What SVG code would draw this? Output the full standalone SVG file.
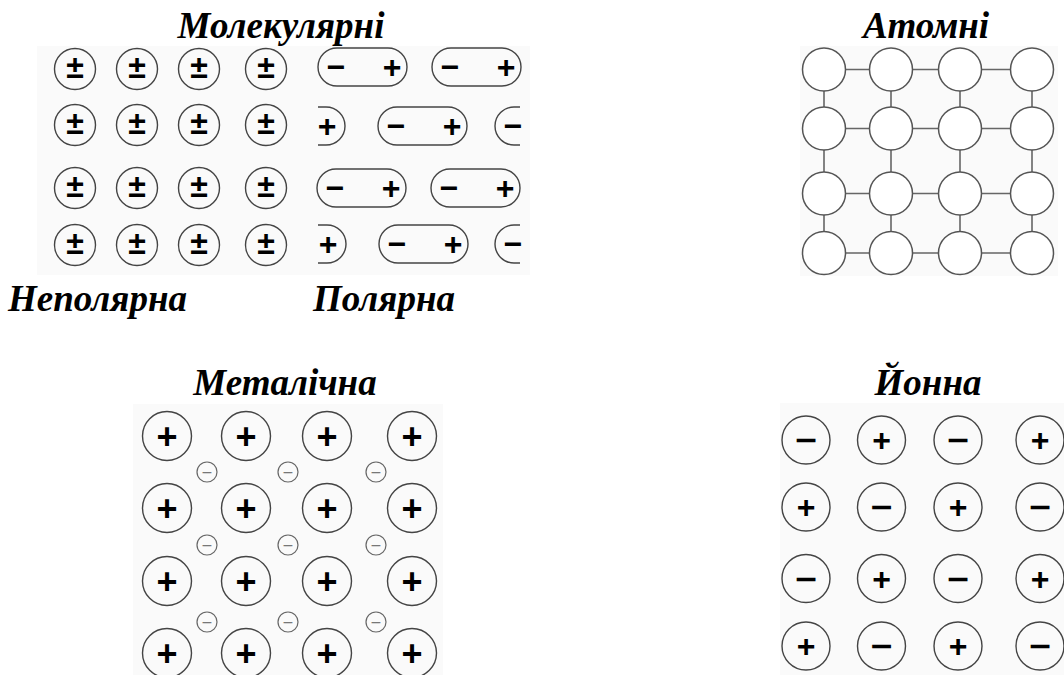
<svg xmlns="http://www.w3.org/2000/svg" width="1064" height="675" viewBox="0 0 1064 675">
<style>
.bg{fill:#fafafa}
.lbl{font-family:"Liberation Serif",serif;font-weight:bold;font-style:italic;font-size:37px;fill:#000}
.c{fill:none;stroke:#444;stroke-width:1.4}
.ca{fill:#fff;stroke:#555;stroke-width:1.5}
.ce{fill:none;stroke:#666;stroke-width:1.2}
.bond{stroke:#666;stroke-width:1.6;fill:none}
.s{font-family:"Liberation Sans",Arial,sans-serif;font-weight:bold;font-size:32px;fill:#000;text-anchor:middle}
.pm{font-family:"Liberation Sans",Arial,sans-serif;font-weight:bold;font-size:32px;fill:#000;text-anchor:middle}
.sp{font-family:"Liberation Sans",Arial,sans-serif;font-weight:bold;font-size:36px;fill:#000;text-anchor:middle}
.sm{font-family:"DejaVu Sans",sans-serif;font-weight:bold;font-size:30px;fill:#000;text-anchor:middle}
.se{font-family:"DejaVu Sans",sans-serif;font-size:14px;fill:#777;text-anchor:middle}
</style>
<rect width="1064" height="675" fill="#fff"/>
<rect class="bg" x="37" y="46" width="493" height="229"/>
<rect class="bg" x="800" y="46" width="258" height="230"/>
<rect class="bg" x="133" y="404" width="310" height="271"/>
<rect class="bg" x="780" y="403" width="284" height="272"/>

<g id="labels">
<text class="lbl" x="281" y="38" text-anchor="middle">Молекулярні</text>
<text class="lbl" x="926" y="38" text-anchor="middle">Атомні</text>
<text class="lbl" x="8" y="311">Неполярна</text>
<text class="lbl" x="313" y="311">Полярна</text>
<text class="lbl" x="285" y="395" text-anchor="middle">Металічна</text>
<text class="lbl" x="928" y="395" text-anchor="middle">Йонна</text>
</g>

<g id="nonpolar">
<g id="np-r1">
<circle class="c" cx="75" cy="69" r="20.5"/><text class="pm" x="75" y="78">±</text>
<circle class="c" cx="137" cy="69" r="20.5"/><text class="pm" x="137" y="78">±</text>
<circle class="c" cx="199" cy="69" r="20.5"/><text class="pm" x="199" y="78">±</text>
<circle class="c" cx="266" cy="69" r="20.5"/><text class="pm" x="266" y="78">±</text>
</g>
<g id="np-r2">
<circle class="c" cx="75" cy="125" r="20.5"/><text class="pm" x="75" y="134">±</text>
<circle class="c" cx="137" cy="125" r="20.5"/><text class="pm" x="137" y="134">±</text>
<circle class="c" cx="199" cy="125" r="20.5"/><text class="pm" x="199" y="134">±</text>
<circle class="c" cx="266" cy="125" r="20.5"/><text class="pm" x="266" y="134">±</text>
</g>
<g id="np-r3">
<circle class="c" cx="75" cy="188" r="20.5"/><text class="pm" x="75" y="197">±</text>
<circle class="c" cx="137" cy="188" r="20.5"/><text class="pm" x="137" y="197">±</text>
<circle class="c" cx="199" cy="188" r="20.5"/><text class="pm" x="199" y="197">±</text>
<circle class="c" cx="266" cy="188" r="20.5"/><text class="pm" x="266" y="197">±</text>
</g>
<g id="np-r4">
<circle class="c" cx="75" cy="245" r="20.5"/><text class="pm" x="75" y="254">±</text>
<circle class="c" cx="137" cy="245" r="20.5"/><text class="pm" x="137" y="254">±</text>
<circle class="c" cx="199" cy="245" r="20.5"/><text class="pm" x="199" y="254">±</text>
<circle class="c" cx="266" cy="245" r="20.5"/><text class="pm" x="266" y="254">±</text>
</g>
</g>

<g id="polar">
<g id="pol-r1">
<rect class="c" x="318" y="48" width="89" height="38" rx="19"/><text class="s" x="336" y="78">−</text><text class="s" x="392" y="78">+</text>
<rect class="c" x="432" y="48" width="89" height="38" rx="19"/><text class="s" x="450" y="78">−</text><text class="s" x="506" y="78">+</text>
</g>
<g id="pol-r2">
<path class="c" d="M318,107 H326 A19,19 0 0 1 326,145 H318"/><text class="s" x="327" y="137">+</text>
<rect class="c" x="378" y="107" width="89" height="38" rx="19"/><text class="s" x="396" y="137">−</text><text class="s" x="452" y="137">+</text>
<path class="c" d="M520,107 H514 A19,19 0 0 0 514,145 H520"/><text class="s" x="513" y="137">−</text>
</g>
<g id="pol-r3">
<rect class="c" x="317" y="169" width="89" height="38" rx="19"/><text class="s" x="335" y="199">−</text><text class="s" x="391" y="199">+</text>
<rect class="c" x="431" y="169" width="89" height="38" rx="19"/><text class="s" x="449" y="199">−</text><text class="s" x="505" y="199">+</text>
</g>
<g id="pol-r4">
<path class="c" d="M318,225 H327 A19,19 0 0 1 327,263 H318"/><text class="s" x="328" y="255">+</text>
<rect class="c" x="379" y="225" width="89" height="38" rx="19"/><text class="s" x="397" y="255">−</text><text class="s" x="453" y="255">+</text>
<path class="c" d="M520,225 H514 A19,19 0 0 0 514,263 H520"/><text class="s" x="513" y="255">−</text>
</g>
</g>

<g id="atomic-bonds">
<path class="bond" d="M845.5,69.5H869.5M912.5,69.5H938.5M981.5,69.5H1010.5M845.5,128.5H869.5M912.5,128.5H938.5M981.5,128.5H1010.5M845.5,193.5H869.5M912.5,193.5H938.5M981.5,193.5H1010.5M845.5,253H869.5M912.5,253H938.5M981.5,253H1010.5"/>
<path class="bond" d="M824,91V107M891,91V107M960,91V107M1032,91V107M824,150V172M891,150V172M960,150V172M1032,150V172M824,215V231.5M891,215V231.5M960,215V231.5M1032,215V231.5"/>
</g>
<g id="atomic">
<g id="at-r1"><circle class="ca" cx="824" cy="69.5" r="21.5"/><circle class="ca" cx="891" cy="69.5" r="21.5"/><circle class="ca" cx="960" cy="69.5" r="21.5"/><circle class="ca" cx="1032" cy="69.5" r="21.5"/></g>
<g id="at-r2"><circle class="ca" cx="824" cy="128.5" r="21.5"/><circle class="ca" cx="891" cy="128.5" r="21.5"/><circle class="ca" cx="960" cy="128.5" r="21.5"/><circle class="ca" cx="1032" cy="128.5" r="21.5"/></g>
<g id="at-r3"><circle class="ca" cx="824" cy="193.5" r="21.5"/><circle class="ca" cx="891" cy="193.5" r="21.5"/><circle class="ca" cx="960" cy="193.5" r="21.5"/><circle class="ca" cx="1032" cy="193.5" r="21.5"/></g>
<g id="at-r4"><circle class="ca" cx="824" cy="253" r="21.5"/><circle class="ca" cx="891" cy="253" r="21.5"/><circle class="ca" cx="960" cy="253" r="21.5"/><circle class="ca" cx="1032" cy="253" r="21.5"/></g>
</g>

<g id="metallic">
<g id="me-r1">
<circle class="c" cx="167" cy="436" r="24.5"/><text class="sp" x="167" y="448.5">+</text>
<circle class="c" cx="246" cy="436" r="24.5"/><text class="sp" x="246" y="448.5">+</text>
<circle class="c" cx="327" cy="436" r="24.5"/><text class="sp" x="327" y="448.5">+</text>
<circle class="c" cx="412" cy="436" r="24.5"/><text class="sp" x="412" y="448.5">+</text>
</g>
<g id="me-e1">
<circle class="ce" cx="207" cy="472" r="10"/><text class="se" x="207" y="477">−</text>
<circle class="ce" cx="288" cy="472" r="10"/><text class="se" x="288" y="477">−</text>
<circle class="ce" cx="376" cy="472" r="10"/><text class="se" x="376" y="477">−</text>
</g>
<g id="me-r2">
<circle class="c" cx="167" cy="508" r="24.5"/><text class="sp" x="167" y="520.5">+</text>
<circle class="c" cx="246" cy="508" r="24.5"/><text class="sp" x="246" y="520.5">+</text>
<circle class="c" cx="327" cy="508" r="24.5"/><text class="sp" x="327" y="520.5">+</text>
<circle class="c" cx="412" cy="508" r="24.5"/><text class="sp" x="412" y="520.5">+</text>
</g>
<g id="me-e2">
<circle class="ce" cx="207" cy="545" r="10"/><text class="se" x="207" y="550">−</text>
<circle class="ce" cx="288" cy="545" r="10"/><text class="se" x="288" y="550">−</text>
<circle class="ce" cx="376" cy="545" r="10"/><text class="se" x="376" y="550">−</text>
</g>
<g id="me-r3">
<circle class="c" cx="167" cy="581" r="24.5"/><text class="sp" x="167" y="593.5">+</text>
<circle class="c" cx="246" cy="581" r="24.5"/><text class="sp" x="246" y="593.5">+</text>
<circle class="c" cx="327" cy="581" r="24.5"/><text class="sp" x="327" y="593.5">+</text>
<circle class="c" cx="412" cy="581" r="24.5"/><text class="sp" x="412" y="593.5">+</text>
</g>
<g id="me-e3">
<circle class="ce" cx="207" cy="622" r="10"/><text class="se" x="207" y="627">−</text>
<circle class="ce" cx="288" cy="622" r="10"/><text class="se" x="288" y="627">−</text>
<circle class="ce" cx="376" cy="622" r="10"/><text class="se" x="376" y="627">−</text>
</g>
<g id="me-r4">
<circle class="c" cx="167" cy="653" r="24.5"/><text class="sp" x="167" y="665.5">+</text>
<circle class="c" cx="246" cy="653" r="24.5"/><text class="sp" x="246" y="665.5">+</text>
<circle class="c" cx="327" cy="653" r="24.5"/><text class="sp" x="327" y="665.5">+</text>
<circle class="c" cx="412" cy="653" r="24.5"/><text class="sp" x="412" y="665.5">+</text>
</g>
</g>

<g id="ionic">
<g id="io-r1">
<circle class="c" cx="806" cy="440" r="24"/><text class="sm" x="806" y="450">−</text>
<circle class="c" cx="881.5" cy="440" r="24"/><text class="s" x="881.5" y="451">+</text>
<circle class="c" cx="958" cy="440" r="24"/><text class="sm" x="958" y="450">−</text>
<circle class="c" cx="1040" cy="440" r="24"/><text class="s" x="1040" y="451">+</text>
</g>
<g id="io-r2">
<circle class="c" cx="806" cy="507" r="24"/><text class="s" x="806" y="518">+</text>
<circle class="c" cx="881.5" cy="507" r="24"/><text class="sm" x="881.5" y="517">−</text>
<circle class="c" cx="958" cy="507" r="24"/><text class="s" x="958" y="518">+</text>
<circle class="c" cx="1040" cy="507" r="24"/><text class="sm" x="1040" y="517">−</text>
</g>
<g id="io-r3">
<circle class="c" cx="806" cy="578.5" r="24"/><text class="sm" x="806" y="588.5">−</text>
<circle class="c" cx="881.5" cy="578.5" r="24"/><text class="s" x="881.5" y="589.5">+</text>
<circle class="c" cx="958" cy="578.5" r="24"/><text class="sm" x="958" y="588.5">−</text>
<circle class="c" cx="1040" cy="578.5" r="24"/><text class="s" x="1040" y="589.5">+</text>
</g>
<g id="io-r4">
<circle class="c" cx="806" cy="646" r="24"/><text class="s" x="806" y="657">+</text>
<circle class="c" cx="881.5" cy="646" r="24"/><text class="sm" x="881.5" y="656">−</text>
<circle class="c" cx="958" cy="646" r="24"/><text class="s" x="958" y="657">+</text>
<circle class="c" cx="1040" cy="646" r="24"/><text class="sm" x="1040" y="656">−</text>
</g>
</g>
</svg>
